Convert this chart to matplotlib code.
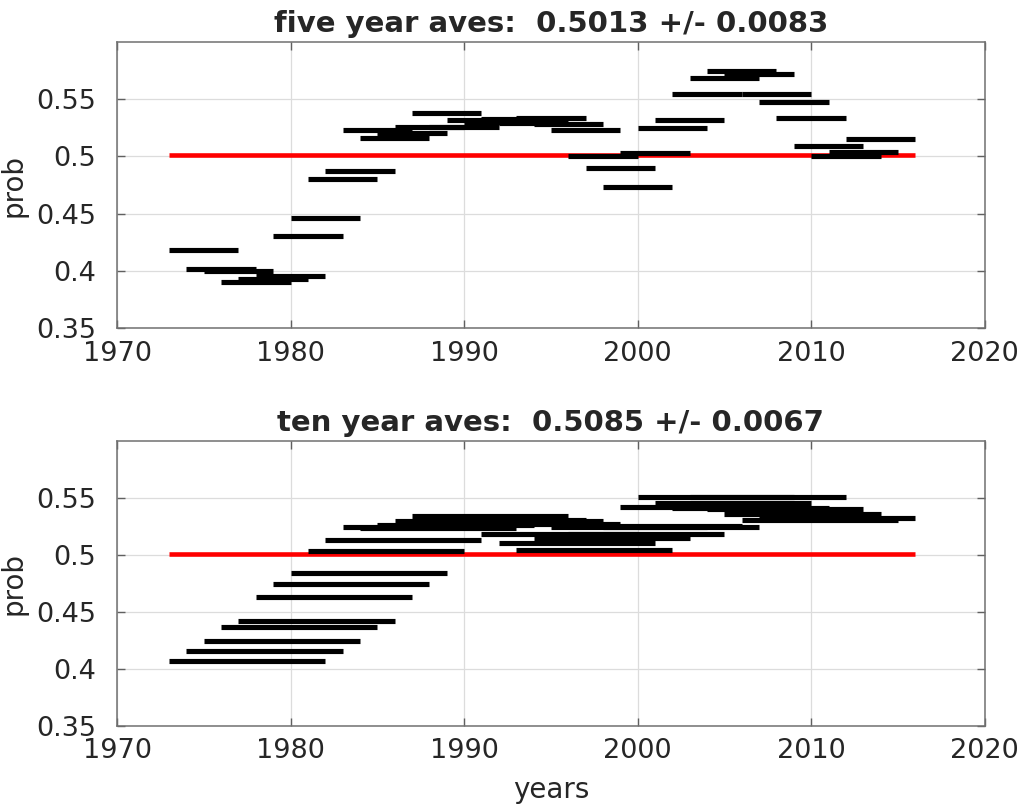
import matplotlib
matplotlib.use('Agg')
import matplotlib.pyplot as plt
import numpy as np

# five year windows: start year and mean prob
five_start = list(range(1973, 2013))
five_vals = [0.4182, 0.4013, 0.3998, 0.3901, 0.3927, 0.3958, 0.4307, 0.4462,
             0.4801, 0.4874, 0.5228, 0.5161, 0.5202, 0.5260, 0.5383, 0.5257,
             0.5318, 0.5305, 0.5325, 0.5295, 0.5339, 0.5285, 0.5228, 0.5000,
             0.4896, 0.4734, 0.5026, 0.5249, 0.5316, 0.5544, 0.5687, 0.5746,
             0.5717, 0.5550, 0.5477, 0.5339, 0.5090, 0.5003, 0.5035, 0.5149]
five_len = 4

# ten year windows
ten_start = list(range(1973, 2008))
ten_vals = [0.4073, 0.4161, 0.4242, 0.4364, 0.4420, 0.4633, 0.4744, 0.4840,
            0.5033, 0.5129, 0.5249, 0.5237, 0.5265, 0.5297, 0.5340, 0.5310,
            0.5301, 0.5275, 0.5181, 0.5106, 0.5041, 0.5145, 0.5245, 0.5180,
            0.5258, 0.5245, 0.5419, 0.5507, 0.5456, 0.5415, 0.5509, 0.5407,
            0.5364, 0.5305, 0.5325]
ten_len = 9

overall_mean = 0.5013
first_year = 1973
last_year = 2016

titles = ['five year aves:  0.5013 +/- 0.0083',
          'ten year aves:  0.5085 +/- 0.0067']

plt.rcParams['font.family'] = ['DejaVu Sans']
fig = plt.figure(figsize=(10.22, 8.08), dpi=100)
ax1 = fig.add_axes([0.1145, 0.594, 0.849, 0.354])
ax2 = fig.add_axes([0.1145, 0.1015, 0.849, 0.3527])

txt = '#262626'
for ax, starts, vals, wl, title in [(ax1, five_start, five_vals, five_len, titles[0]),
                                    (ax2, ten_start, ten_vals, ten_len, titles[1])]:
    ax.plot([first_year, last_year], [overall_mean, overall_mean], color='red',
            lw=3.3, solid_capstyle='butt', zorder=2)
    for s, v in zip(starts, vals):
        ax.plot([s, s + wl], [v, v], color='black', lw=3.7,
                solid_capstyle='butt', zorder=3)
    ax.set_xlim(1970, 2020)
    ax.set_ylim(0.35, 0.6)
    ax.set_xticks([1970, 1980, 1990, 2000, 2010, 2020])
    ax.set_yticks([0.35, 0.4, 0.45, 0.5, 0.55])
    ax.set_yticklabels(['0.35', '0.4', '0.45', '0.5', '0.55'])
    ax.grid(True, color='#dcdcdc', lw=0.9)
    ax.set_axisbelow(True)
    ax.tick_params(direction='in', top=True, right=True, labelsize=19.5,
                   colors='#606060', labelcolor=txt, length=6, width=1)
    ax.tick_params(axis='x', pad=9)
    ax.tick_params(axis='y', pad=15)
    for sp in ax.spines.values():
        sp.set_color('#707070')
        sp.set_linewidth(1.1)
    ax.set_ylabel('prob', fontsize=20, color=txt, labelpad=6)
    ax.set_title(title, fontsize=21, fontweight='bold', color=txt, pad=7)

ax2.set_xlabel('years', fontsize=20, color=txt, labelpad=8)

plt.savefig('out.png', dpi=100)
